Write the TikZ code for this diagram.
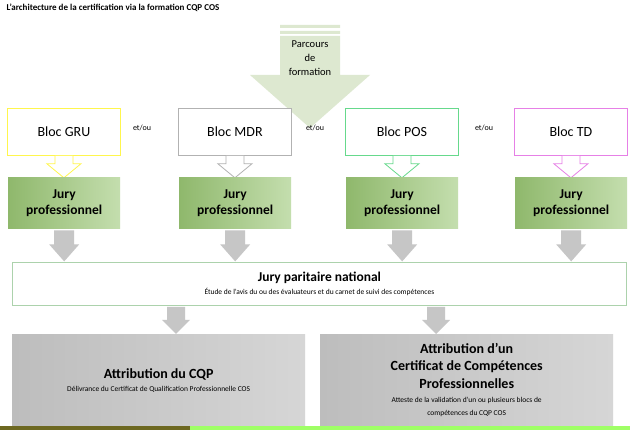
\documentclass[tikz,border=0pt]{standalone}
\usepackage{fontspec}
\setmainfont{Carlito}
\newcommand{\bigb}{\bfseries\fontsize{14}{17}\selectfont}
\newcommand{\smallt}{\mdseries\fontsize{7.5}{9}\selectfont}
\begin{document}
\begin{tikzpicture}[x=1pt,y=-1pt,
 bloc/.style={draw=#1,line width=0.8pt,fill=white,minimum width=113pt,minimum height=47pt,anchor=north west,font=\fontsize{14}{16}\selectfont},
 garrow/.style={fill=gray!45,draw=none},
 etou/.style={font=\fontsize{8}{9}\selectfont}]
\definecolor{jl}{HTML}{8FB86C}\definecolor{jr}{HTML}{C4DEAE}
\definecolor{bl}{HTML}{BDBDBD}\definecolor{br}{HTML}{D6D6D6}
\definecolor{pa}{HTML}{DDE8D0}
\tikzset{jury/.style={left color=jl,right color=jr,minimum width=112pt,minimum height=51pt,anchor=north west,align=center,font=\bfseries\fontsize{13.5}{16}\selectfont},
 bottom/.style={left color=bl,right color=br,minimum width=293pt,minimum height=92pt,anchor=north west,align=center}}
\useasboundingbox (0,0) rectangle (630,430);
\fill[white] (0,0) rectangle (630,430);
\node[anchor=west,font=\bfseries\fontsize{9}{10}\selectfont] (title) at (3,8) {L'architecture de la certification via la formation CQP COS};
% big arrow
\fill[pa] (280,25) rectangle (340,28) (280,31) rectangle (340,34)
 (280,36) -- (340,36) -- (340,75) -- (370,75) -- (310,128) -- (250,75) -- (280,75) -- cycle;
\node[align=center,font=\fontsize{10.5}{14}\selectfont] (parcours) at (310,58) {Parcours\\de\\formation};
% blocs
\foreach \n/\x/\c/\t in {a/7/yellow!70!white/Bloc GRU,b/178/gray!60/Bloc MDR,c/345/teal!50!green!60/Bloc POS,d/514/violet!40!magenta!50/Bloc TD}{
 \node[bloc=\c] (b\n) at (\x,108) {\t};
 \draw[draw=\c,line width=0.8pt,fill=white] ([xshift=-9pt]b\n.south) -- ++(0,8) -- ++(-8,0) -- ++(17,14) -- ++(17,-14) -- ++(-8,0) -- ++(0,-8);
 \node[jury] (j\n) at (\x+1,177) {Jury\\professionnel};
 \fill[garrow] ([xshift=-10pt,yshift=-2pt]j\n.south) rectangle ([xshift=10pt,yshift=-16pt]j\n.south)
   ([xshift=-15pt,yshift=-16pt]j\n.south) -- ([xshift=15pt,yshift=-16pt]j\n.south) -- ([yshift=-33pt]j\n.south) -- cycle;
}
\node[etou] (e1) at (142,128) {et/ou};
\node[etou] (e2) at (315,128) {et/ou};
\node[etou] (e3) at (484,128) {et/ou};
% jury paritaire
\node[draw=green!30!gray!50,line width=0.8pt,fill=white,minimum width=614pt,minimum height=43pt,anchor=north west,align=center] (jp) at (12,262)
 {\bfseries\fontsize{13.5}{15}\selectfont Jury paritaire national\\[1pt]\smallt Étude de l'avis du ou des évaluateurs et du carnet de suivi des compétences};
\foreach \xx in {176,436}{
 \fill[garrow] (\xx-9,307) rectangle (\xx+9,320) (\xx-14,320) -- (\xx+14,320) -- (\xx,334) -- cycle;}
% bottom boxes
\node[bottom] (cqp) at (12,334) {\bigb Attribution du CQP\\[1pt]\smallt Délivrance du Certificat de Qualification Professionnelle COS};
\node[bottom] (ccp) at (320,334) {\bigb Attribution d'un\\[5pt]\bigb Certificat de Compétences\\[5pt]\bigb Professionnelles\\[2pt]\smallt Atteste de la validation d'un ou plusieurs blocs de\\[1pt]\smallt compétences du CQP COS};
\fill[olive!70!black] (0,426) rectangle (190,430);
\fill[lime!50!green!60] (190,426) rectangle (630,430);
\end{tikzpicture}
\end{document}
